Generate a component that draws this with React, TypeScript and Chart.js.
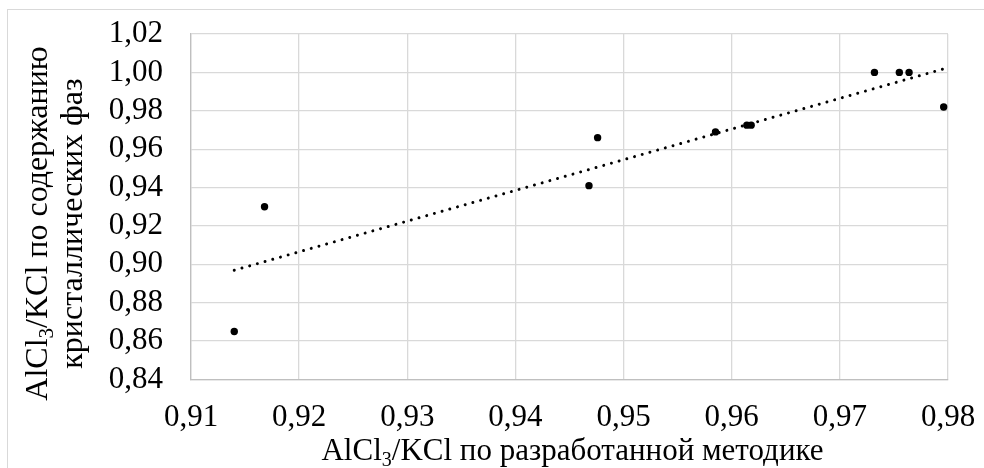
import React, { useEffect, useRef } from "react";
import { Chart, registerables } from "chart.js";

Chart.register(...registerables);

// AlCl3/KCl by the developed method (x) vs by crystalline phase content (y)
const methodRatio = [0.914, 0.9168, 0.9468, 0.9476, 0.9585, 0.9614, 0.9618, 0.9732, 0.9755, 0.9764, 0.9796];
const phaseRatio = [0.865, 0.93, 0.941, 0.966, 0.969, 0.9725, 0.9725, 1.0, 1.0, 1.0, 0.982];

const xAxisMin = 0.91;
const xAxisMax = 0.98;
const xAxisStep = 0.01;
const yAxisMin = 0.84;
const yAxisMax = 1.02;
const yAxisStep = 0.02;

// title pieces: odd indices are subscripts
const xTitleParts = ["AlCl", "3", "/KCl по разработанной методике"];
const yTitleLine1Parts = ["AlCl", "3", "/KCl по содержанию"];
const yTitleLine2Parts = ["кристаллических фаз"];

const FONT_FAMILY = "'Liberation Serif', 'Times New Roman', serif";
const TICK_SIZE = 31;
const X_TITLE_SIZE = 31;
const Y_TITLE_SIZE = 32;

function drawParts(ctx: CanvasRenderingContext2D, parts: string[], cx: number, baseline: number, size: number) {
  const subSize = Math.round(size * 0.65);
  const widths = parts.map((p, i) => {
    ctx.font = `${i % 2 === 1 ? subSize : size}px ${FONT_FAMILY}`;
    return ctx.measureText(p).width;
  });
  const total = widths.reduce((a, b) => a + b, 0);
  let x = cx - total / 2;
  ctx.textAlign = "left";
  ctx.textBaseline = "alphabetic";
  parts.forEach((p, i) => {
    const sub = i % 2 === 1;
    ctx.font = `${sub ? subSize : size}px ${FONT_FAMILY}`;
    ctx.fillText(p, x, baseline + (sub ? size * 0.2 : 0));
    x += widths[i];
  });
}

const titlePlugin = {
  id: "axisTitlesWithSubscript",
  afterDraw(chart: any) {
    const { ctx, chartArea } = chart;
    ctx.save();
    ctx.fillStyle = "#000";
    const cx = (chartArea.left + chartArea.right) / 2;
    drawParts(ctx, xTitleParts, cx + 3, 460, X_TITLE_SIZE);
    const cy = 223.5;
    ctx.save();
    ctx.translate(47, cy);
    ctx.rotate(-Math.PI / 2);
    drawParts(ctx, yTitleLine1Parts, 0, 0, Y_TITLE_SIZE);
    ctx.restore();
    ctx.save();
    ctx.translate(82, cy);
    ctx.rotate(-Math.PI / 2);
    drawParts(ctx, yTitleLine2Parts, 0, 0, Y_TITLE_SIZE);
    ctx.restore();
    ctx.restore();
  },
};

const fmt = (v: any) => Number(v).toFixed(2).replace(".", ",");

export default function App() {
  const ref = useRef<HTMLCanvasElement>(null);
  useEffect(() => {
    if (!ref.current) return;
    const n = methodRatio.length;
    const mx = methodRatio.reduce((a, b) => a + b, 0) / n;
    const my = phaseRatio.reduce((a, b) => a + b, 0) / n;
    let sxy = 0;
    let sxx = 0;
    for (let i = 0; i < n; i++) {
      sxy += (methodRatio[i] - mx) * (phaseRatio[i] - my);
      sxx += (methodRatio[i] - mx) ** 2;
    }
    const slope = sxy / sxx;
    const intercept = my - slope * mx;
    const trendX = [Math.min(...methodRatio), Math.max(...methodRatio)];
    const trend = trendX.map((x) => ({ x, y: intercept + slope * x }));

    const chart = new Chart(ref.current, {
      type: "scatter",
      data: {
        datasets: [
          {
            type: "line",
            data: trend,
            borderColor: "#000",
            borderWidth: 3,
            borderDash: [0.001, 8],
            borderCapStyle: "round",
            pointRadius: 0,
            fill: false,
            order: 2,
          } as any,
          {
            data: methodRatio.map((x, i) => ({ x, y: phaseRatio[i] })),
            backgroundColor: "#000",
            borderColor: "#000",
            borderWidth: 0,
            pointRadius: 3.7,
            order: 1,
          },
        ],
      },
      options: {
        animation: false,
        responsive: false,
        maintainAspectRatio: false,
        events: [],
        layout: { padding: { top: 34, right: 36, left: 0, bottom: 0 } },
        plugins: { legend: { display: false }, tooltip: { enabled: false } },
        scales: {
          x: {
            type: "linear",
            min: xAxisMin,
            max: xAxisMax,
            ticks: {
              stepSize: xAxisStep,
              padding: 20,
              color: "#000",
              font: { family: FONT_FAMILY, size: TICK_SIZE },
              callback: fmt,
              maxRotation: 0,
              autoSkip: false,
            },
            grid: { color: "#d9d9d9", lineWidth: 1.3, drawTicks: false },
            border: { color: "#bfbfbf", width: 1.3 },
            afterFit: (s: any) => {
              s.height = 88.5;
              s.paddingLeft = 0;
              s.paddingRight = 0;
            },
          },
          y: {
            type: "linear",
            min: yAxisMin,
            max: yAxisMax,
            ticks: {
              stepSize: yAxisStep,
              padding: 28,
              color: "#000",
              font: { family: FONT_FAMILY, size: TICK_SIZE },
              callback: fmt,
              autoSkip: false,
            },
            grid: { color: "#d9d9d9", lineWidth: 1.3, drawTicks: false },
            border: { color: "#bfbfbf", width: 1.3 },
            afterFit: (s: any) => {
              s.width = 191;
              s.paddingTop = 0;
              s.paddingBottom = 0;
            },
          },
        },
      },
      plugins: [titlePlugin],
    });
    return () => chart.destroy();
  }, []);

  return (
    <div style={{ position: "fixed", left: 0, top: 0, width: 984, height: 468, background: "#fff", overflow: "hidden" }}>
      <div
        style={{
          position: "absolute",
          left: 7,
          top: 9,
          width: 1000,
          height: 500,
          border: "1px solid #d9d9d9",
          boxSizing: "border-box",
        }}
      />
      <canvas ref={ref} width={984} height={468} style={{ position: "absolute", left: 0, top: 0, width: 984, height: 468 }} />
    </div>
  );
}
